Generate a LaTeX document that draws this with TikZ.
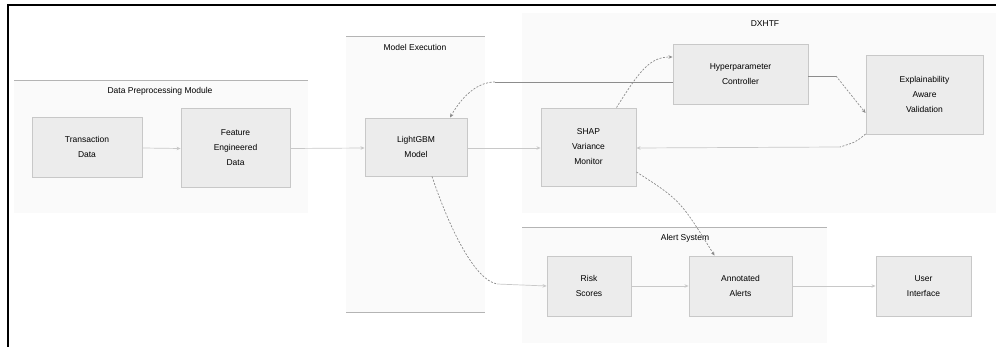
\documentclass[tikz,border=0pt]{standalone}
\usepackage{fontspec}
\setmainfont{Liberation Sans}
\usetikzlibrary{arrows.meta}
\definecolor{clfill}{HTML}{FAFAFA}
\definecolor{clline}{HTML}{B4B4B4}
\definecolor{ndfill}{HTML}{ECECEC}
\definecolor{ndline}{HTML}{C8C8C8}
\definecolor{edgecol}{HTML}{C8C8C8}
\definecolor{edgedark}{HTML}{8C8C8C}
\tikzset{
  box/.style={draw=ndline, line width=0.9pt, fill=ndfill, align=center,
    font=\fontsize{8.5}{15}\selectfont, inner sep=0pt},
  cluster/.style={fill=clfill, draw=none},
  cltitle/.style={font=\fontsize{8.5}{10}\selectfont, text=black},
  edge/.style={draw=edgecol, line width=0.7pt},
  dedge/.style={draw=edgedark, line width=0.7pt, dash pattern=on 2pt off 1.5pt},
  tip/.style={-{Stealth[length=4pt,width=3.5pt]}},
}
\begin{document}
\begin{tikzpicture}[x=1pt,y=-1pt]
\useasboundingbox (0,0) rectangle (996,347);
% frame
\draw[line width=2.5pt, black] (8,347) -- (8,5) -- (996,5);
% clusters
\fill[clfill] (14,81) rectangle (308,213);
\draw[clline, line width=1pt] (14,81) -- (308,81);
\node[cltitle] (tdata) at (160,91) {Data Preprocessing Module};
\fill[clfill] (346,37) rectangle (485,313);
\draw[clline, line width=1pt] (346,37) -- (485,37);
\draw[clline, line width=1pt] (346,313) -- (485,313);
\node[cltitle] (tmodel) at (415,47) {Model Execution};
\fill[clfill] (522,13) rectangle (996,213);
\node[cltitle] (tdx) at (765,24) {DXHTF};
\fill[clfill] (522,228) rectangle (827,343);
\draw[clline, line width=1pt] (522,228) -- (827,228);
\node[cltitle] (talert) at (685,238) {Alert System};
% nodes
\node[box, minimum width=110pt, minimum height=60pt] (trans) at (87,147) {Transaction\\Data};
\node[box, minimum width=109pt, minimum height=79pt] (feat) at (235.5,147.5) {Feature\\Engineered\\Data};
\node[box, minimum width=102pt, minimum height=58pt] (lgbm) at (416,147) {LightGBM\\Model};
\node[box, minimum width=95pt, minimum height=78pt] (shap) at (588.5,147) {SHAP\\Variance\\Monitor};
\node[box, minimum width=135pt, minimum height=60pt] (hyper) at (740.5,74) {Hyperparameter\\Controller};
\node[box, minimum width=117pt, minimum height=79pt] (expl) at (924.5,94.5) {Explainability\\Aware\\Validation};
\node[box, minimum width=84pt, minimum height=60pt] (risk) at (589,286) {Risk\\Scores};
\node[box, minimum width=103pt, minimum height=60pt] (annot) at (740.5,286) {Annotated\\Alerts};
\node[box, minimum width=95pt, minimum height=60pt] (ui) at (923.5,286) {User\\Interface};
% helper coordinates
\coordinate (c1) at (495,82);
\coordinate (c2) at (840,147);
\coordinate (c3) at (497,284);
% edges
\draw[edge, tip] ([yshift=-1pt]trans.east) -- ([yshift=-1pt]feat.west);
\draw[edge, tip] ([yshift=-1pt]feat.east) -- ([yshift=-1pt]lgbm.west);
\draw[edge, tip] ([yshift=-1pt]lgbm.east) -- ([yshift=-1pt]shap.west);
\draw[dedge, tip] ([xshift=28pt]shap.north) .. controls (640,70) and (650,57) .. ([yshift=17pt]hyper.west);
\draw[edgedark, line width=0.9pt] ([yshift=-8pt]hyper.west) -- (c1);
\draw[dedge, tip] (c1) .. controls (475,82) and (460,100) .. ([xshift=34pt]lgbm.north);
\draw[edgedark, line width=0.9pt] ([yshift=-2pt]hyper.east) -- (836,76);
\draw[dedge, tip] (836,76) -- ([yshift=-18.5pt]expl.west);
\draw[dedge] ([yshift=-39.5pt]expl.west) .. controls (856,142) .. (c2);
\draw[edge, tip] (c2) -- ([yshift=-1pt]shap.east);
\draw[dedge, tip] ([yshift=-25pt]shap.east) .. controls (680,200) .. ([xshift=-26pt]annot.north);
\draw[dedge] ([xshift=16pt]lgbm.south) .. controls (450,230) and (475,280) .. (c3);
\draw[edge, tip] (c3) -- (risk.west);
\draw[edge, tip] (risk.east) -- (annot.west);
\draw[edge, tip] (annot.east) -- (ui.west);
\end{tikzpicture}
\end{document}
